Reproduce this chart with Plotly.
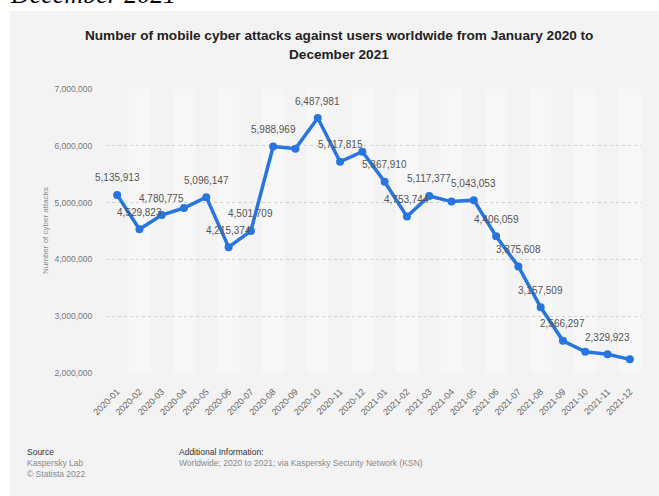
import plotly.graph_objects as go

months = ["2020-01","2020-02","2020-03","2020-04","2020-05","2020-06","2020-07","2020-08",
          "2020-09","2020-10","2020-11","2020-12","2021-01","2021-02","2021-03","2021-04",
          "2021-05","2021-06","2021-07","2021-08","2021-09","2021-10","2021-11","2021-12"]
attacks = [5135913, 4529823, 4780775, 4905000, 5096147, 4215374, 4501709, 5988969,
           5950000, 6487981, 5717815, 5896000, 5367910, 4753744, 5117377, 5018000,
           5043053, 4406059, 3875608, 3157509, 2566297, 2375000, 2329923, 2240000]
show_label = [1,1,1,0,1,1,1,1, 0,1,1,0,1,1,1,0, 1,1,1,1,1,0,1,0]
y_ticks = [2000000, 3000000, 4000000, 5000000, 6000000, 7000000]

W, H = 659, 496
L, R, T, B = 106, 18, 89, 123
pw, ph = W - L - R, H - T - B

def px(x):
    return (x - L) / pw

def py(y):
    return (H - B - y) / ph

fig = go.Figure()
fig.add_trace(go.Scatter(
    x=list(range(len(months))), y=attacks, mode="lines+markers",
    line=dict(color="#2876dd", width=3.5),
    marker=dict(color="#2876dd", size=8),
    hoverinfo="skip", showlegend=False, cliponaxis=False,
))

shapes = [dict(type="rect", xref="paper", yref="paper", x0=px(10), x1=px(659),
               y0=py(496), y1=py(11), fillcolor="#f3f3f3", line=dict(width=0), layer="below")]
for i in range(len(months)):
    if i % 2 == 1:
        shapes.append(dict(type="rect", xref="x", yref="paper", x0=i - 0.5, x1=i + 0.5,
                           y0=0, y1=1, fillcolor="#f7f7f7", line=dict(width=0), layer="below"))

annotations = []
for i, (v, s) in enumerate(zip(attacks, show_label)):
    if s:
        annotations.append(dict(x=i, y=v, xref="x", yref="y", text=f"{v:,}", showarrow=False,
                                yshift=17, font=dict(size=10, color="#555555",
                                                     family="Liberation Sans, Arial")))

annotations += [
    dict(x=px(8), y=py(11), xref="paper", yref="paper", xanchor="left", yanchor="bottom",
         text="<i>December 2021</i>", showarrow=False,
         font=dict(family="Liberation Serif, Times New Roman", size=26, color="#000000")),
    dict(x=px(339), y=py(35), xref="paper", yref="paper", xanchor="center", yanchor="middle",
         text="<b>Number of mobile cyber attacks against users worldwide from January 2020 to</b>",
         showarrow=False, font=dict(size=13.6, color="#222222", family="Liberation Sans, Arial")),
    dict(x=px(339), y=py(55), xref="paper", yref="paper", xanchor="center", yanchor="middle",
         text="<b>December 2021</b>",
         showarrow=False, font=dict(size=13.6, color="#222222", family="Liberation Sans, Arial")),
    dict(x=px(45), y=py(231), xref="paper", yref="paper", xanchor="center", yanchor="middle",
         text="Number of cyber attacks", textangle=-90, showarrow=False,
         font=dict(size=8, color="#8a8a8a", family="Liberation Sans, Arial")),
    dict(x=px(25), y=py(452), xref="paper", yref="paper", xanchor="left", yanchor="middle",
         text="Source", showarrow=False, font=dict(size=8.5, color="#333333", family="Liberation Sans, Arial")),
    dict(x=px(25), y=py(463), xref="paper", yref="paper", xanchor="left", yanchor="middle",
         text="Kaspersky Lab", showarrow=False, font=dict(size=8.5, color="#8a8a8a", family="Liberation Sans, Arial")),
    dict(x=px(25), y=py(474), xref="paper", yref="paper", xanchor="left", yanchor="middle",
         text="© Statista 2022", showarrow=False, font=dict(size=8.5, color="#8a8a8a", family="Liberation Sans, Arial")),
    dict(x=px(177), y=py(452), xref="paper", yref="paper", xanchor="left", yanchor="middle",
         text="Additional Information:", showarrow=False, font=dict(size=8.5, color="#333333", family="Liberation Sans, Arial")),
    dict(x=px(177), y=py(463), xref="paper", yref="paper", xanchor="left", yanchor="middle",
         text="Worldwide; 2020 to 2021; via Kaspersky Security Network (KSN)", showarrow=False,
         font=dict(size=8.5, color="#8a8a8a", family="Liberation Sans, Arial")),
]

fig.update_layout(
    width=W, height=H, margin=dict(l=L, r=R, t=T, b=B),
    paper_bgcolor="#ffffff", plot_bgcolor="rgba(0,0,0,0)",
    shapes=shapes, annotations=annotations,
    xaxis=dict(tickmode="array", tickvals=list(range(len(months))), ticktext=months,
               range=[-0.5, len(months) - 0.5], tickangle=-45, showgrid=False, zeroline=False,
               showline=False, ticks="outside", ticklen=9, tickcolor="rgba(0,0,0,0)",
               tickfont=dict(size=9, color="#666666", family="Liberation Sans, Arial")),
    yaxis=dict(range=[2000000, 7000000], tickvals=y_ticks,
               ticktext=[f"{v:,}" for v in y_ticks], showgrid=True, gridcolor="#cfcfcf",
               griddash="dot", gridwidth=1, zeroline=False, showline=False,
               ticks="outside", ticklen=11, tickcolor="rgba(0,0,0,0)",
               tickfont=dict(size=8.5, color="#777777", family="Liberation Sans, Arial")),
)

fig.write_html("out.html")
